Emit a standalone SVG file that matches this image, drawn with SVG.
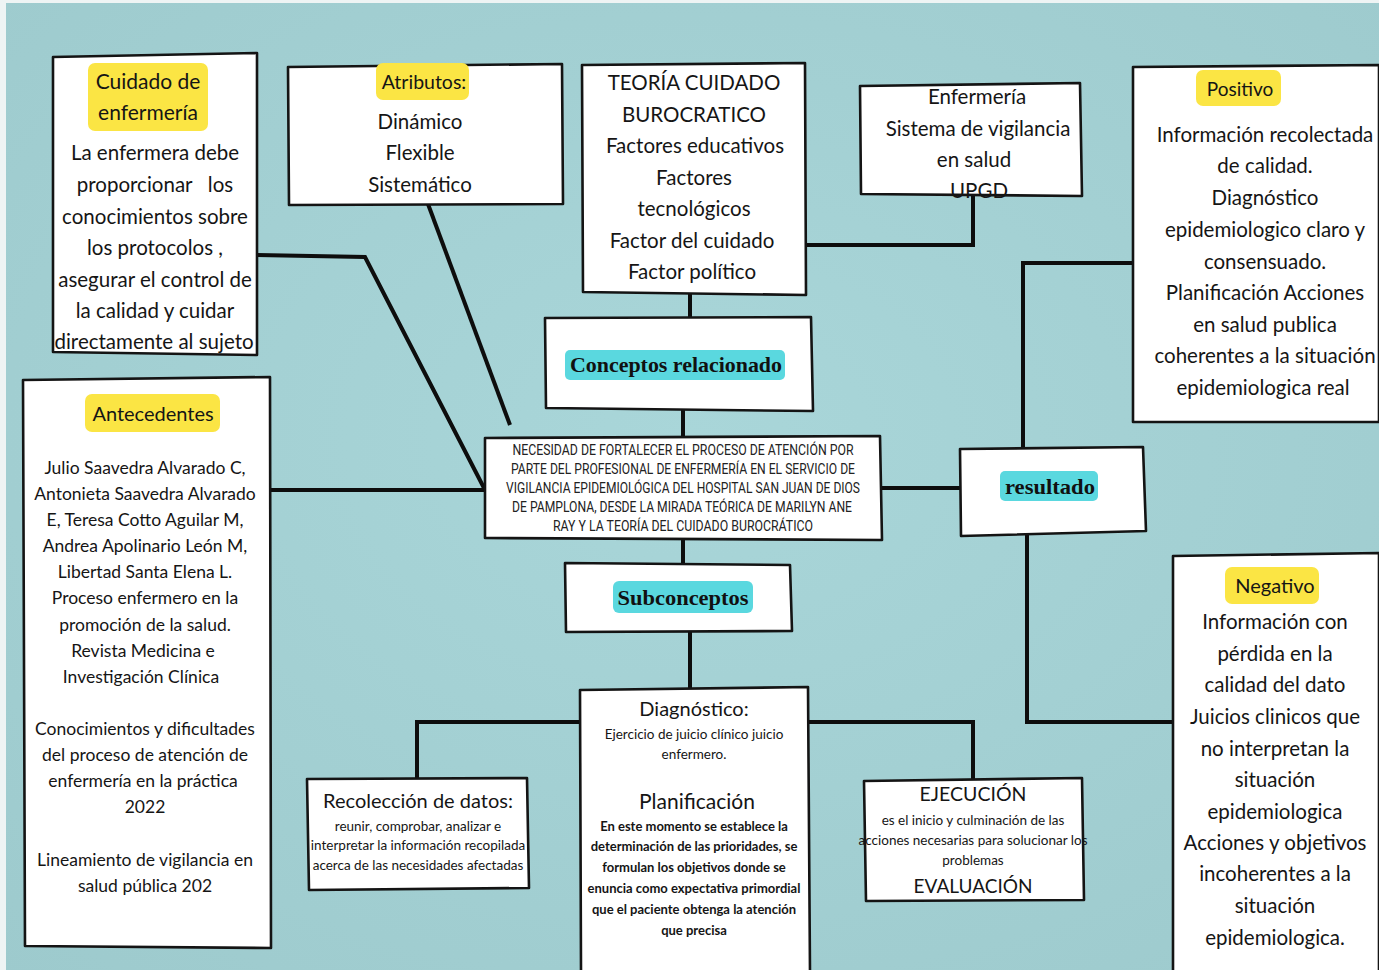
<svg xmlns="http://www.w3.org/2000/svg" width="1379" height="970" viewBox="0 0 1379 970">
<defs>
<style>
.box{fill:#ffffff;stroke:#141414;stroke-width:2.6;stroke-linejoin:round}
.yl{fill:#fbe544}
.cy{fill:#5ad8df}
.t{font-family:Lato,"Noto Sans",sans-serif;fill:#151515;text-anchor:middle;dominant-baseline:central}
.b21{font-size:20.5px}
.b20{font-size:17.5px}
.h22{font-size:21px}
.h20{font-size:20px}
.s14{font-size:13.5px}
.sb{font-size:13px;font-weight:bold}
.ser{font-family:"Liberation Serif","DejaVu Serif",serif;font-weight:bold;font-size:22px;fill:#111;text-anchor:middle;dominant-baseline:central}
.cen{font-family:"Liberation Sans Narrow","Roboto",sans-serif;font-size:14px;fill:#222;text-anchor:middle;dominant-baseline:central}
.ln{fill:none;stroke:#0d0d0d;stroke-width:4;stroke-linejoin:miter}
</style>
<radialGradient id="bg" cx="50%" cy="45%" r="75%">
<stop offset="0" stop-color="#a9d6d9"/>
<stop offset="1" stop-color="#9dcacd"/>
</radialGradient>
</defs>
<rect x="0" y="0" width="1379" height="970" fill="#eef4f4"/>
<rect x="6" y="3" width="1373" height="967" fill="url(#bg)"/>

<g id="connectors">
<polyline class="ln" points="257,255 365,257 484,488"/>
<line class="ln" x1="428" y1="204" x2="510" y2="425"/>
<line class="ln" x1="271" y1="490" x2="485" y2="490"/>
<line class="ln" x1="690" y1="294" x2="690" y2="318"/>
<line class="ln" x1="683" y1="410" x2="683" y2="437"/>
<polyline class="ln" points="806,245 973,245 973,195"/>
<line class="ln" x1="882" y1="488" x2="960" y2="488"/>
<polyline class="ln" points="1023,448 1023,263 1133,263"/>
<polyline class="ln" points="1027,533 1027,722 1173,722"/>
<line class="ln" x1="683" y1="539" x2="683" y2="564"/>
<line class="ln" x1="690" y1="631" x2="690" y2="689"/>
<polyline class="ln" points="580,722 417,722 417,779"/>
<polyline class="ln" points="809,722 973,722 973,780"/>
</g>

<g id="cuidado">
<polygon class="box" points="53,57 257,53 257,355 53,352"/>
<rect class="yl" x="88" y="63" width="120" height="68" rx="7"/>
<text class="t h22" x="148" y="80">Cuidado de</text>
<text class="t h22" x="148" y="111">enfermería</text>
<text class="t b21" x="155" y="152">La enfermera debe</text>
<text class="t b21" x="155" y="184" xml:space="preserve">proporcionar   los</text>
<text class="t b21" x="155" y="216">conocimientos sobre</text>
<text class="t b21" x="155" y="247">los protocolos ,</text>
<text class="t b21" x="155" y="279">asegurar el control de</text>
<text class="t b21" x="155" y="310">la calidad y cuidar</text>
<text class="t b21" x="154" y="341">directamente al sujeto</text>
</g>

<g id="atributos">
<polygon class="box" points="288,67 562,64 563,204 289,205"/>
<rect class="yl" x="376" y="63" width="93" height="37" rx="7"/>
<text class="t" x="424" y="81" font-size="19.5">Atributos:</text>
<text class="t b21" x="420" y="121">Dinámico</text>
<text class="t b21" x="420" y="152">Flexible</text>
<text class="t b21" x="420" y="184">Sistemático</text>
</g>

<g id="teoria">
<polygon class="box" points="582,65 805,63 806,295 583,292"/>
<text class="t b21" x="694" y="82">TEORÍA CUIDADO</text>
<text class="t b21" x="694" y="114">BUROCRATICO</text>
<text class="t b21" x="695" y="145">Factores educativos</text>
<text class="t b21" x="694" y="177">Factores</text>
<text class="t b21" x="694" y="208">tecnológicos</text>
<text class="t b21" x="692" y="240">Factor del cuidado</text>
<text class="t b21" x="692" y="271">Factor político</text>
</g>

<g id="enfermeria">
<polygon class="box" points="860,86 1080,83 1082,196 861,194"/>
<text class="t b21" x="977" y="96">Enfermería</text>
<text class="t b21" x="978" y="128">Sistema de vigilancia</text>
<text class="t b21" x="974" y="159">en salud</text>
<text class="t b21" x="979" y="190">UPGD</text>
</g>

<g id="positivo">
<polygon class="box" points="1133,67 1379,65 1379,422 1133,422"/>
<rect class="yl" x="1196" y="70" width="85" height="36" rx="7"/>
<text class="t" x="1240" y="88" font-size="19">Positivo</text>
<text class="t b21" x="1265" y="134">Información recolectada</text>
<text class="t b21" x="1265" y="165">de calidad.</text>
<text class="t b21" x="1265" y="197">Diagnóstico</text>
<text class="t b21" x="1265" y="229">epidemiologico claro y</text>
<text class="t b21" x="1265" y="261">consensuado.</text>
<text class="t b21" x="1265" y="292">Planificación Acciones</text>
<text class="t b21" x="1265" y="324">en salud publica</text>
<text class="t b21" x="1265" y="355">coherentes a la situación</text>
<text class="t b21" x="1263" y="387">epidemiologica real</text>
</g>

<g id="conceptos">
<polygon class="box" points="545,318 811,317 813,411 546,408"/>
<rect class="cy" x="565" y="350" width="220" height="30" rx="5"/>
<text class="ser" x="676" y="364" textLength="212" lengthAdjust="spacingAndGlyphs">Conceptos relacionado</text>
</g>

<g id="central">
<polygon class="box" points="485,438 880,436 882,540 485,538"/>
<text class="cen" x="683" y="450" textLength="341" lengthAdjust="spacingAndGlyphs">NECESIDAD DE FORTALECER EL PROCESO DE ATENCIÓN POR</text>
<text class="cen" x="683" y="469" textLength="344" lengthAdjust="spacingAndGlyphs">PARTE DEL PROFESIONAL DE ENFERMERÍA EN EL SERVICIO DE</text>
<text class="cen" x="683" y="488" textLength="354" lengthAdjust="spacingAndGlyphs">VIGILANCIA EPIDEMIOLÓGICA DEL HOSPITAL SAN JUAN DE DIOS</text>
<text class="cen" x="682" y="507" textLength="340" lengthAdjust="spacingAndGlyphs">DE PAMPLONA, DESDE LA MIRADA TEÓRICA DE MARILYN ANE</text>
<text class="cen" x="683" y="526" textLength="260" lengthAdjust="spacingAndGlyphs">RAY Y LA TEORÍA DEL CUIDADO BUROCRÁTICO</text>
</g>

<g id="subconceptos">
<polygon class="box" points="565,563 790,565 792,631 566,632"/>
<rect class="cy" x="613" y="581" width="140" height="32" rx="6"/>
<text class="ser" x="683" y="597" textLength="131" lengthAdjust="spacingAndGlyphs">Subconceptos</text>
</g>

<g id="resultado">
<polygon class="box" points="960,449 1143,447 1146,531 961,536"/>
<rect class="cy" x="1000" y="471" width="98" height="30" rx="5"/>
<text class="ser" x="1050" y="486" textLength="90" lengthAdjust="spacingAndGlyphs">resultado</text>
</g>

<g id="antecedentes">
<polygon class="box" points="23,380 270,377 271,948 25,946"/>
<rect class="yl" x="85" y="394" width="135" height="38" rx="7"/>
<text class="t h20" x="153" y="413">Antecedentes</text>
<text class="t b20" x="145" y="467">Julio Saavedra Alvarado C,</text>
<text class="t b20" x="145" y="493">Antonieta Saavedra Alvarado</text>
<text class="t b20" x="145" y="519">E, Teresa Cotto Aguilar M,</text>
<text class="t b20" x="145" y="545">Andrea Apolinario León M,</text>
<text class="t b20" x="145" y="571">Libertad Santa Elena L.</text>
<text class="t b20" x="145" y="597">Proceso enfermero en la</text>
<text class="t b20" x="145" y="624">promoción de la salud.</text>
<text class="t b20" x="143" y="650">Revista Medicina e</text>
<text class="t b20" x="141" y="676">Investigación Clínica</text>
<text class="t b20" x="145" y="728">Conocimientos y dificultades</text>
<text class="t b20" x="145" y="754">del proceso de atención de</text>
<text class="t b20" x="143" y="780">enfermería en la práctica</text>
<text class="t b20" x="145" y="806">2022</text>
<text class="t b20" x="145" y="859">Lineamiento de vigilancia en</text>
<text class="t b20" x="145" y="885">salud pública 202</text>
</g>

<g id="recoleccion">
<polygon class="box" points="307,779 527,778 529,888 309,890"/>
<text class="t h20" x="418" y="800">Recolección de datos:</text>
<text class="t s14" x="418" y="826">reunir, comprobar, analizar e</text>
<text class="t s14" x="418" y="845">interpretar la información recopilada</text>
<text class="t s14" x="418" y="865">acerca de las necesidades afectadas</text>
</g>

<g id="diagnostico">
<polygon class="box" points="580,690 808,687 810,972 581,972"/>
<text class="t h20" x="694" y="708">Diagnóstico:</text>
<text class="t s14" x="694" y="734">Ejercicio de juicio clínico juicio</text>
<text class="t s14" x="694" y="754">enfermero.</text>
<text class="t h22" x="697" y="800">Planificación</text>
<text class="t sb" x="694" y="826">En este momento se establece la</text>
<text class="t sb" x="694" y="846">determinación de las prioridades, se</text>
<text class="t sb" x="694" y="867">formulan los objetivos donde se</text>
<text class="t sb" x="694" y="888">enuncia como expectativa primordial</text>
<text class="t sb" x="694" y="909">que el paciente obtenga la atención</text>
<text class="t sb" x="694" y="930">que precisa</text>
</g>

<g id="ejecucion">
<polygon class="box" points="864,781 1082,778 1084,900 866,901"/>
<text class="t" x="973" y="793" font-size="19.5">EJECUCIÓN</text>
<text class="t s14" x="973" y="820">es el inicio y culminación de las</text>
<text class="t s14" x="973" y="840">acciones necesarias para solucionar los</text>
<text class="t s14" x="973" y="860">problemas</text>
<text class="t" x="973" y="885" font-size="19">EVALUACIÓN</text>
</g>

<g id="negativo">
<polygon class="box" points="1173,556 1379,553 1379,972 1173,972"/>
<rect class="yl" x="1225" y="567" width="94" height="37" rx="7"/>
<text class="t h20" x="1275" y="585">Negativo</text>
<text class="t b21" x="1275" y="621">Información con</text>
<text class="t b21" x="1275" y="653">pérdida en la</text>
<text class="t b21" x="1275" y="684">calidad del dato</text>
<text class="t b21" x="1275" y="716">Juicios clinicos que</text>
<text class="t b21" x="1275" y="748">no interpretan la</text>
<text class="t b21" x="1275" y="779">situación</text>
<text class="t b21" x="1275" y="811">epidemiologica</text>
<text class="t b21" x="1275" y="842">Acciones y objetivos</text>
<text class="t b21" x="1275" y="873">incoherentes a la</text>
<text class="t b21" x="1275" y="905">situación</text>
<text class="t b21" x="1275" y="937">epidemiologica.</text>
</g>
</svg>
